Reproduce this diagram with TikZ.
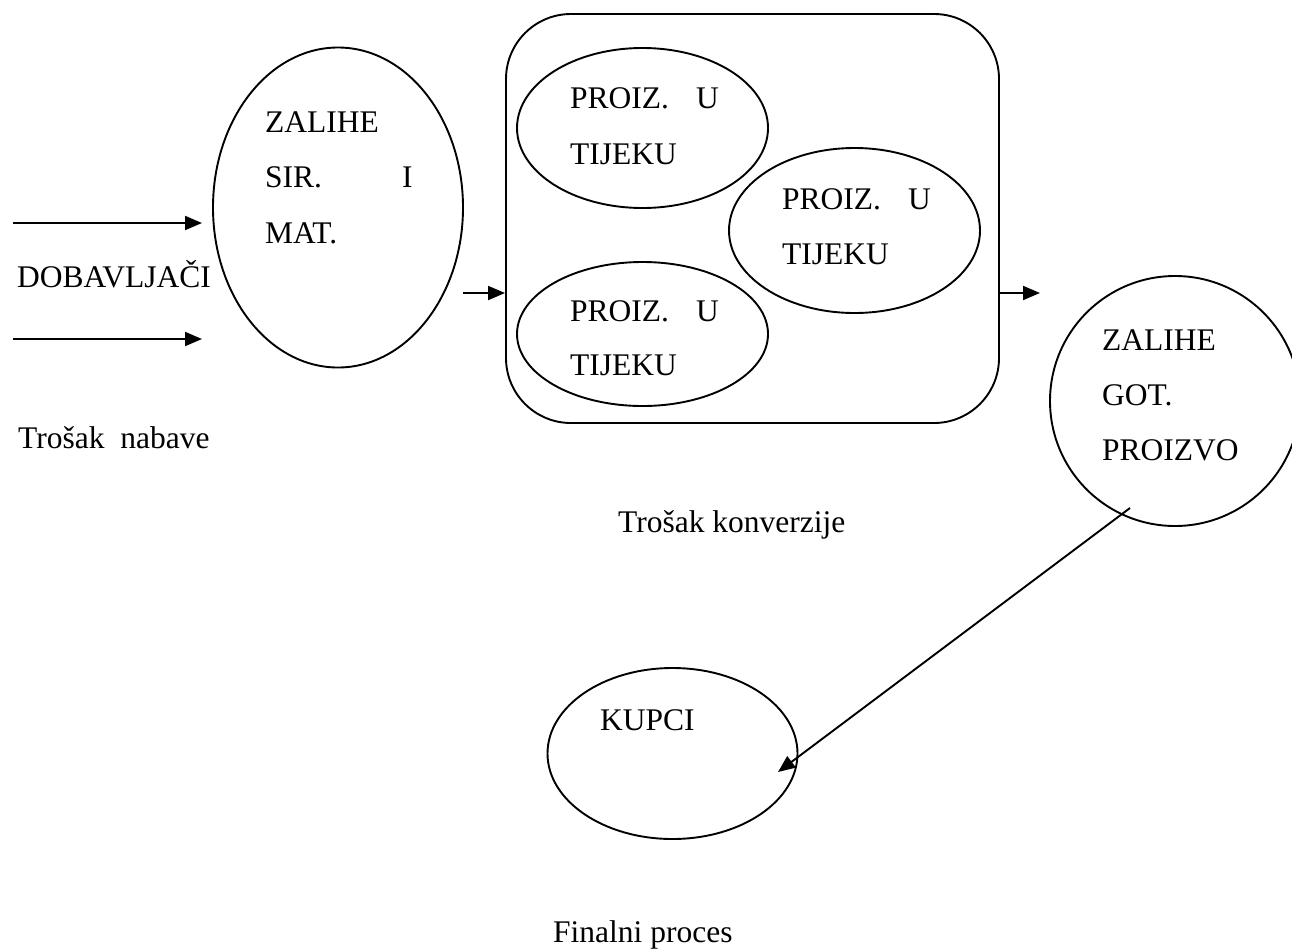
\documentclass[tikz,border=0pt]{standalone}
\usepackage{fontspec}
\setmainfont{Liberation Serif}
\usetikzlibrary{shapes.geometric}
\usetikzlibrary{arrows.meta}
\tikzset{>=latex}
\tikzset{stock/.style = {shape=ellipse,draw,line width=1.9pt,inner sep=0pt}}
\tikzset{edge/.style = {line width=1.9pt,-{Triangle[length=17pt,width=14pt]}}}
\tikzset{word/.style = {anchor=base west,inner sep=0pt,font=\fontsize{31.5}{36}\selectfont}}

\begin{document}
\begin{tikzpicture}[x=1pt,y=-1pt]
            \useasboundingbox (0,0) rectangle (1292,948);

            % Shapes
            \node[stock,minimum width=250pt,minimum height=320pt] (sir) at (338,207.5) {};
            \node[draw,line width=1.9pt,rounded corners=65pt,inner sep=0pt,
                  minimum width=493pt,minimum height=409pt] (pro) at (752.5,218.5) {};
            \node[stock,minimum width=251pt,minimum height=160pt] (pa) at (642.5,128) {};
            \node[stock,minimum width=251pt,minimum height=165pt] (pb) at (854.5,230.5) {};
            \node[stock,minimum width=251pt,minimum height=144pt] (pc) at (642.5,334) {};
            \node[stock,minimum width=250pt,minimum height=250pt] (got) at (1175,401) {};
            \node[stock,minimum width=250pt,minimum height=171pt] (kup) at (672.5,753.5) {};

            % Texts
            \node[word] (sir1) at (265,132) {ZALIHE};
            \node[word] (sir2) at (265,187) {SIR.};
            \node[word] (sir3) at (402,187) {I};
            \node[word] (sir4) at (265,243) {MAT.};
            \node[word] (pa1) at (570,108) {PROIZ.\hspace{27pt}U};
            \node[word] (pa2) at (570,164) {TIJEKU};
            \node[word] (pb1) at (782,209) {PROIZ.\hspace{27pt}U};
            \node[word] (pb2) at (782,264) {TIJEKU};
            \node[word] (pc1) at (570,321) {PROIZ.\hspace{27pt}U};
            \node[word] (pc2) at (570,375) {TIJEKU};
            \node[word] (got1) at (1102,350) {ZALIHE};
            \node[word] (got2) at (1102,405) {GOT.};
            \node[word] (got3) at (1102,460) {PROIZVO};
            \node[word] (kup1) at (600,730) {KUPCI};
            \node[word] (dob) at (17,287) {DOBAVLJAČI};
            \node[word] (nab) at (18,448) {Trošak~~nabave};
            \node[word] (konv) at (618,532) {Trošak konverzije};
            \node[word] (fin) at (553,942) {Finalni proces};

            % Edges
            \coordinate (in1) at (13,223);
            \coordinate (in1e) at (202,223);
            \coordinate (in2) at (13,339);
            \coordinate (in2e) at (202,339);
            \coordinate (sirout) at (463,293);
            \coordinate (proout) at (1040,293);
            \coordinate (gotout) at (1130,508);
            \coordinate (kupin) at (778,772);

            \draw[edge] (in1) -- (in1e);
            \draw[edge] (in2) -- (in2e);
            \draw[edge] (sirout) -- (sirout -| pro.west);
            \draw[edge] (pro.east |- proout) -- (proout);
            \draw[edge] (gotout) -- (kupin);
        \end{tikzpicture}
\end{document}
